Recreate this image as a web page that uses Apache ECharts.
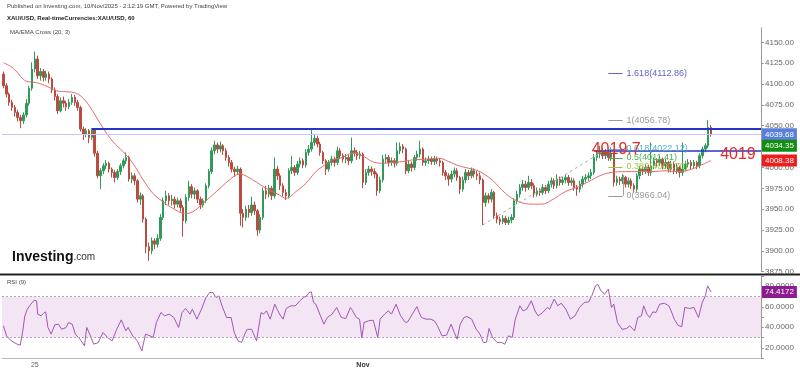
<!DOCTYPE html>
<html><head><meta charset="utf-8">
<script src="https://cdn.jsdelivr.net/npm/echarts@6/dist/echarts.min.js"></script>
<style>html,body{margin:0;padding:0;background:#fff}#c{width:800px;height:372px}</style>
</head><body><div id="c"></div>
<script>
// [open, close, low, high] per hourly bar (slot index = position)
const candles = [
[4112,4098,4095,4115],[4098,4088,4084,4101],[4088,4078,4074,4090],[4078,4072,4068,4081],[4072,4066,4061,4075],
[4066,4060,4055,4069],[4060,4056,4047,4063],[4056,4063,4052,4066],[4063,4077,4060,4082],[4077,4095,4074,4098],
[4095,4118,4092,4126],[4118,4130,4114,4139],[4130,4110,4106,4134],[4110,4115,4104,4119],[4115,4108,4103,4118],
[4108,4112,4104,4116],[4112,4106,4101,4115],[4106,4093,4089,4108],[4093,4085,4080,4096],[4085,4068,4064,4088],
[4068,4080,4066,4084],[4080,4077,4072,4085],[4077,4073,4068,4080],[4073,4078,4070,4082],[4078,4084,4075,4088],
[4084,4078,4074,4087],[4078,4072,4068,4081],[4072,4046,4043,4074],[4046,4040,4033,4049],[4040,4044,4036,4047],
[4044,4036,4029,4046],[4036,4045,4033,4047],[4045,4017,4013,4047],[4017,3990,3987,4020],[3990,3996,3974,3999],
[3996,4002,3992,4005],[4002,4005,3998,4009],[4005,3998,3994,4007],[3998,3994,3988,4000],[3994,3988,3982,3997],
[3988,3995,3985,3998],[3995,4002,3991,4005],[4002,4008,3999,4011],[4008,4012,4004,4018],[4012,3986,3983,4014],
[3986,3990,3981,3994],[3990,3984,3979,3993],[3984,3962,3958,3986],[3962,3966,3955,3970],[3966,3938,3934,3968],
[3938,3905,3897,3940],[3905,3900,3888,3910],[3900,3912,3896,3916],[3912,3908,3902,3915],[3908,3915,3904,3920],
[3915,3940,3912,3944],[3940,3960,3937,3964],[3960,3966,3955,3972],[3966,3960,3955,3969],[3960,3962,3954,3967],
[3962,3956,3951,3965],[3956,3960,3952,3964],[3960,3952,3947,3963],[3952,3936,3917,3955],[3936,3964,3933,3968],
[3964,3977,3960,3984],[3977,3968,3963,3980],[3968,3972,3962,3976],[3972,3962,3957,3974],[3962,3955,3950,3965],
[3955,3960,3952,3963],[3960,3978,3957,3981],[3978,3995,3975,3998],[3995,4020,3992,4024],[4020,4027,4016,4032],
[4027,4022,4017,4030],[4022,4026,4018,4031],[4026,4020,4015,4028],[4020,4012,4008,4023],[4012,4006,4001,4015],
[4006,3998,3994,4009],[3998,3995,3989,4001],[3995,3998,3991,4002],[3998,3945,3930,4000],[3945,3940,3928,3950],
[3940,3950,3936,3954],[3950,3946,3940,3955],[3946,3955,3942,3965],[3955,3948,3943,3959],[3948,3925,3918,3950],
[3925,3940,3921,3944],[3940,3972,3937,3976],[3972,3968,3962,3978],[3968,3975,3964,3979],[3975,3966,3961,3978],
[3966,3998,3963,4012],[3998,3990,3985,4002],[3990,3978,3973,3993],[3978,3970,3965,3981],[3970,3966,3961,3974],
[3966,3996,3963,3999],[3996,4000,3992,4014],[4000,3994,3990,4003],[3994,4004,3991,4008],[4004,4008,4000,4012],
[4008,4003,3999,4011],[4003,4018,4000,4022],[4018,4022,4014,4027],[4022,4030,4019,4045],[4030,4035,4026,4040],
[4035,4028,4024,4038],[4028,4018,4014,4031],[4018,4008,4004,4020],[4008,3998,3991,4010],[3998,4006,3995,4009],
[4006,4010,4002,4014],[4010,4006,4001,4013],[4006,4020,4003,4025],[4020,4014,4010,4023],[4014,4010,4006,4017],
[4010,4012,4005,4016],[4012,4008,4003,4015],[4008,4020,4005,4036],[4020,4018,4013,4024],[4018,4014,4009,4021],
[4014,4016,4010,4020],[4016,3982,3975,4018],[3982,3994,3979,3998],[3994,3998,3990,4002],[3998,3995,3990,4001],
[3995,3992,3987,3999],[3992,3972,3966,3994],[3972,3985,3969,3989],[3985,4010,3982,4015],[4010,4012,4005,4016],
[4012,4006,4001,4015],[4006,4008,4002,4012],[4008,4005,4000,4011],[4005,4020,4002,4030],[4020,4025,4016,4030],
[4025,4022,4017,4028],[4022,3996,3992,4024],[3996,4004,3993,4008],[4004,4000,3995,4007],[4000,4012,3997,4015],
[4012,4016,4008,4020],[4016,4022,4012,4032],[4022,4006,4002,4024],[4006,4008,4002,4012],[4008,4010,4004,4014],
[4010,4007,4003,4013],[4007,4010,4003,4014],[4010,4008,4004,4013],[4008,4006,4001,4011],[4006,3994,3990,4008],
[3994,3990,3985,3997],[3990,3986,3978,3993],[3986,3992,3982,3996],[3992,3996,3988,4000],[3996,3988,3984,3999],
[3988,3974,3968,3990],[3974,3985,3971,3989],[3985,3994,3981,3998],[3994,3990,3985,3997],[3990,3996,3987,4000],
[3996,3992,3988,3999],[3992,3990,3985,3996],[3990,3985,3980,3994],[3985,3958,3931,3987],[3958,3966,3953,3970],
[3966,3962,3957,3969],[3962,3970,3958,3974],[3970,3942,3938,3972],[3942,3938,3933,3946],[3938,3935,3931,3941],
[3935,3939,3932,3943],[3939,3934,3931,3942],[3934,3937,3931,3941],[3937,3940,3933,3944],[3940,3960,3937,3963],
[3960,3968,3956,3972],[3968,3976,3964,3980],[3976,3980,3972,3985],[3980,3976,3971,3984],[3976,3982,3973,3990],
[3982,3978,3974,3986],[3978,3968,3964,3981],[3968,3972,3965,3976],[3972,3970,3966,3975],[3970,3976,3967,3980],
[3976,3972,3968,3979],[3972,3980,3969,3984],[3980,3984,3976,3988],[3984,3978,3974,3987],[3978,3986,3975,3992],
[3986,3982,3978,3989],[3982,3985,3979,3989],[3985,3988,3981,3992],[3988,3982,3978,3991],[3982,3984,3978,3988],
[3984,3976,3972,3987],[3976,3974,3966,3979],[3974,3980,3970,3984],[3980,3986,3976,3990],[3986,3988,3982,3992],
[3988,3990,3984,3994],[3990,3994,3986,3998],[3994,4012,3991,4016],[4012,4016,4008,4020],[4016,4020,4011,4026],
[4020,4014,4010,4023],[4014,4018,4010,4022],[4018,4012,4008,4021],[4012,4016,4008,4024],[4016,3982,3977,4018],
[3982,3986,3978,3990],[3986,3984,3979,3989],[3984,3988,3980,3992],[3988,3980,3976,3990],[3980,3984,3976,3988],
[3984,3978,3974,3987],[3978,3974,3970,3981],[3974,3990,3971,3993],[3990,3998,3986,4002],[3998,3996,3991,4001],
[3996,4000,3992,4004],[4000,3994,3990,4003],[3994,4002,3990,4030],[4002,4008,3998,4012],[4008,4006,4001,4011],
[4006,4010,4002,4014],[4010,4002,3998,4012],[4002,4006,3998,4010],[4006,3998,3994,4008],[3998,4004,3994,4008],
[4004,3996,3992,4007],[3996,4000,3992,4004],[4000,3994,3988,4002],[3994,3998,3990,4030],[3998,4004,3995,4008],
[4004,4006,4000,4010],[4006,4002,3998,4009],[4002,4006,3999,4009],[4006,4002,3998,4008],[4002,4014,3999,4017],
[4014,4022,4011,4025],[4022,4026,4018,4029],[4026,4048,4023,4056.78],[4048,4039.68,4037,4051]
];
// MA(20) line vertices: [slot, price]
const maPoints = [[0,4125.6],[3.5,4118.8],[7,4105.6],[8.7,4102.8],[11.6,4101.6],[15,4097.6],[18.6,4092],[22,4090.8],[25.6,4088.8],[28.5,4080.9],[31.4,4066.9],[35,4046.9],[38.4,4030.9],[41.9,4018.9],[45.4,4004.9],[49,3985],[52.4,3968.9],[55.9,3958.9],[59.4,3950.9],[63.5,3944.9],[66.4,3946.9],[69.9,3956.9],[74.6,3970.9],[79.2,3985],[82.7,3992],[87.4,3985],[92,3975],[96.7,3967],[99,3963],[102.5,3971],[106,3981],[109.5,3995],[111.8,4001],[115.3,4009],[118.8,4012],[122.3,4017],[125.8,4014],[129.3,4007],[132.8,4005],[136.3,4006],[139.8,4007],[143.3,4009],[148,4010],[152.6,4011],[156.1,4007],[159.6,4002],[163.1,3999],[166.6,3995.5],[171.3,3985],[175.9,3969],[180.6,3959],[185.2,3956],[188.7,3956],[192.2,3961],[196.9,3971],[201.6,3977],[206.2,3985],[209.7,3991],[213.2,3994],[217.9,3995],[222.5,3995],[227.2,3995],[231.9,3996],[236.5,3995],[241.2,3998],[244.7,4003],[248,4008.38]];
// RSI(9) vertices: [slot, value]
const rsiPoints = [[0,41.4],[1.1,31.6],[2.7,26.8],[4.8,23.5],[5.9,22.5],[6.7,34.9],[7.5,51],[8.4,57.6],[9.6,62.5],[10.8,66.4],[11.6,65.8],[12,52.8],[13.2,51.2],[14,53.5],[14.8,55],[15.6,39.8],[16.7,33.3],[18,42.4],[19.3,43],[20.4,38],[22,39.8],[22.8,44.6],[24.1,43],[25.2,33.3],[26.8,28.4],[28.4,21.9],[29.2,39.8],[30.5,31.6],[31.6,23.5],[33.2,25],[34.9,34.9],[36.5,30],[38.1,26.8],[39.7,38],[41.3,47.2],[42.9,36.5],[43.7,39.8],[45.3,31.6],[46.9,26.8],[48.5,17],[49.8,33.3],[51.4,31.6],[52.5,30],[53.6,44.6],[55.2,54.4],[56.5,51.1],[58.1,52.8],[59.7,49.5],[61.4,39.8],[62.6,54.4],[63.8,58.3],[65.4,52.8],[66.2,57.6],[67.8,47.9],[69.4,57.6],[71,69],[72.3,73.9],[73.4,73.9],[74.5,69],[75.5,70.6],[76.6,60.9],[78.2,49.5],[79.8,49.5],[80.9,34.9],[82.2,26.8],[83.5,25.2],[84.6,33.3],[85.4,38],[87,38],[88.7,26.8],[90.3,54.4],[91.1,52.8],[92.2,56],[93.5,47.9],[95.1,62.5],[95.9,57.6],[97,51.8],[98,47.9],[99.1,58.3],[100.7,60.9],[102.3,60.9],[103.9,65.8],[105.2,69],[106.3,70.6],[107.1,73.9],[107.9,74.5],[108.7,64.1],[109.5,62.5],[111.1,51.1],[112.3,43],[113.5,49.5],[115.2,52.8],[116.8,59.3],[118.4,49.5],[120,48.5],[121.6,59.3],[122.4,56],[123.7,49.5],[124.8,47.9],[125.6,30],[126.4,44.6],[128,46.3],[129.6,46.9],[131.2,30],[132,47.9],[133.6,52.8],[134.9,56],[136,52.8],[137.6,62.5],[139.2,51.1],[140.9,44.6],[141.7,45.3],[143.3,52.8],[144.9,60.2],[145.7,54.4],[146.5,49.5],[148.1,47.9],[149.7,47.9],[151,46.3],[152.1,41.4],[153.7,31.6],[155.3,32.3],[156.9,43],[158,34.9],[159,28.4],[160.1,43],[161.4,49.5],[162.5,50.5],[164.1,47.9],[165.7,38],[167,33.3],[168.2,25.2],[169.3,25.2],[170.2,38.8],[171.4,30],[173,25.2],[174.6,25.2],[175.7,23.5],[177,31.6],[178.3,30],[179.4,47.9],[181,60.9],[182.1,56],[183.4,57.6],[185,65.8],[186.3,56],[187.4,51.1],[189,54.4],[190.6,59.3],[191.4,57.6],[193,67.4],[194.3,60.9],[195.5,63.5],[197.1,57.6],[198.7,47.9],[200.3,51.1],[201.9,59.3],[203.5,64.1],[205.1,64.8],[206.2,70.6],[207.5,80.4],[208.3,82],[209.4,75.5],[210.7,72.3],[212,77.2],[213.1,59.3],[213.9,62.5],[215.2,44.6],[216.8,38],[218.4,38.8],[219.5,41.4],[221.2,36.5],[222.3,49.5],[223.6,51.1],[224.4,60.9],[225.5,52.8],[226.5,49.5],[227.6,55],[228.7,54.4],[230,62.5],[231.6,63.5],[233.2,60.9],[234,56],[235.1,47.9],[236.4,42],[237.7,40.4],[238.8,59.3],[240.4,58.3],[242,59.3],[243.6,49.5],[244.9,64.1],[246,70.6],[246.8,80.4],[248,74.4172]];

const slotCount = 266;
const priceTickStep = 25;           // price labels 3875.00 ... 4150.00
const priceLabelMax = 4150;
const rsiLabels = [20,40,60,80];
const xTickSlots = [11,34,57,80,103,126,149,172,195,218,241,264];
const xTickLabels = {11:'25',126:'Nov'};
const lastPrice = 4039.68, emaLast = 4034.35, maLast = 4008.38, rsiLast = 74.4172;
const resistance = 4046.9, support = 4019.7;
const fibLevels = [
  {name:'1.618(4112.86)', value:4112.86, color:'#6464c8'},
  {name:'1(4056.78)', value:4056.78, color:'#9a9a9a'},
  {name:'0.618(4022.12)', value:4022.12, color:'#4fb3c4'},
  {name:'0.5(4011.41)', value:4011.41, color:'#4caf50'},
  {name:'0.382(4000.70)', value:4000.70, color:'#a9c23f'},
  {name:'0(3966.04)', value:3966.04, color:'#9a9a9a'}
];
const fibFrom = 212, fibTo = 217;
const trendFrom = [168, 3931], trendTo = [211, 4021];
const redTexts = [{text:'4019.7', at:[206, 4022]}, {text:'4019', at:[251, 4015]}];

const categories = [];
for (let i = 0; i < slotCount; i++) categories.push(String(i));

const UP = '#2f9a5a', DOWN = '#bd4a40';
const FONT = '"Liberation Sans", Arial, sans-serif';

function tag(bg, text, offY) {
  return {show:true, position:'end', distance:1, formatter:text, backgroundColor:bg, color:'#fff',
    fontSize:8, fontFamily:FONT, padding:[2,3,1,3], lineHeight:9, offset:[0, offY || 0]};
}
const hidden = {color:'rgba(0,0,0,0)', width:0};

const markLines = [
  {yAxis:lastPrice, lineStyle:{color:'#c6c6ee', width:1, type:'solid'}, label:tag('#5a7fda','4039.68')},
  {yAxis:maLast, lineStyle:hidden, label:tag('#f01c1c','4008.38')},
  {yAxis:emaLast, lineStyle:hidden, label:tag('#128c12','4034.35', 7)},
  [{coord:[31, resistance], lineStyle:{color:'#2634c6', width:2, type:'solid'}, label:{show:false}}, {coord:[265.5, resistance]}],
  [{coord:[207, support], lineStyle:{color:'#2634c6', width:1.6, type:'solid'}, label:{show:false}}, {coord:[265.5, support]}],
  [{coord:trendFrom, lineStyle:{color:'#aaaaaa', width:1, type:[3,3]}, label:{show:false}}, {coord:trendTo}],
  [{coord:[217.2, 3966.04], lineStyle:{color:'#a0a0a0', width:1, type:'solid'}, label:{show:false}}, {coord:[217.2, 3991]}]
];
fibLevels.forEach(f => {
  const lab = {show:true, position:'end', distance:4, formatter:f.name, color:f.color, fontSize:9, fontFamily:FONT};
  markLines.push([{coord:[fibFrom, f.value], lineStyle:{color:f.color, width:1, type:'solid'}, label:lab},
                  {coord:[fibTo, f.value], lineStyle:{color:f.color, width:1, type:'solid'}, label:lab}]);
});

const chart = echarts.init(document.getElementById('c'), null, {renderer:'canvas'});
chart.setOption({
  animation:false,
  backgroundColor:'#fff',
  textStyle:{fontFamily:FONT},
  grid:[
    {left:2, top:28, width:759, height:243.7, outerBoundsMode:'none', containLabel:false},
    {left:2, top:276, width:759, height:82, outerBoundsMode:'none', containLabel:false}
  ],
  xAxis:[
    {type:'category', gridIndex:0, data:categories, boundaryGap:true, show:false},
    {type:'value', gridIndex:0, min:-0.5, max:slotCount-0.5, show:false, axisLine:{onZero:false}},
    {type:'category', gridIndex:1, data:categories, boundaryGap:true,
      axisLine:{onZero:false, lineStyle:{color:'#b8b8b8'}},
      axisTick:{alignWithLabel:true, length:3, interval:(i)=>xTickSlots.includes(i), lineStyle:{color:'#999'}},
      axisLabel:{interval:(i)=>xTickSlots.includes(i), margin:4, fontSize:7, color:'#666',
        formatter:(v,i)=> i===126 ? '{b|Nov}' : (xTickLabels[i]||''),
        rich:{b:{fontSize:7, color:'#333', fontWeight:'bold'}}},
      splitLine:{show:false}},
    {type:'value', gridIndex:1, min:-0.5, max:slotCount-0.5, show:false, axisLine:{onZero:false}}
  ],
  yAxis:[
    {type:'value', gridIndex:0, position:'right', min:3875, max:4167.2, interval:priceTickStep,
      axisLine:{show:true, onZero:false, lineStyle:{color:'#9a9a9a'}},
      axisTick:{show:true, length:3, lineStyle:{color:'#9a9a9a'}},
      axisLabel:{showMaxLabel:false, formatter:(v)=> (v % priceTickStep === 0 && v <= priceLabelMax) ? v.toFixed(2) : '',
        fontSize:8, color:'#666', margin:4},
      splitLine:{show:false}},
    {type:'value', gridIndex:1, position:'right', min:10, max:90, interval:10,
      axisLine:{show:true, onZero:false, lineStyle:{color:'#9a9a9a'}},
      axisTick:{show:true, length:3, lineStyle:{color:'#9a9a9a'}},
      axisLabel:{formatter:(v)=> rsiLabels.includes(v) ? v.toFixed(4) : '', fontSize:8, color:'#666', margin:4},
      splitLine:{show:false}}
  ],
  series:[
    {type:'candlestick', xAxisIndex:0, yAxisIndex:0, data:candles, barWidth:2,
      itemStyle:{color:UP, color0:DOWN, borderColor:UP, borderColor0:DOWN, borderWidth:1}, z:2},
    {type:'line', xAxisIndex:1, yAxisIndex:0, data:maPoints, smooth:0.4, showSymbol:false,
      lineStyle:{color:'#e46a6a', width:1}, z:3, silent:true,
      markLine:{silent:true, symbol:['none','none'], animation:false, data:markLines},
      markPoint:{silent:true, symbol:'circle', symbolSize:1, itemStyle:{color:'rgba(0,0,0,0)'},
        label:{show:true, position:'right', distance:0, fontSize:16, color:'#e42a2a', fontFamily:FONT, formatter:(p)=>p.name},
        data:redTexts.map(t=>({name:t.text, coord:t.at}))}
    },
    {type:'line', xAxisIndex:3, yAxisIndex:1, data:rsiPoints, showSymbol:false,
      lineStyle:{color:'#a256b6', width:1}, silent:true, z:3,
      markArea:{silent:true, itemStyle:{color:'#f3e5f4'}, data:[[{yAxis:30},{yAxis:70}]]},
      markLine:{silent:true, symbol:['none','none'], animation:false, data:[
        {yAxis:70, lineStyle:{color:'#b0a8b2', width:1, type:[2,2]}, label:{show:false}},
        {yAxis:30, lineStyle:{color:'#b0a8b2', width:1, type:[2,2]}, label:{show:false}},
        {yAxis:rsiLast, lineStyle:hidden, label:tag('#8c1c90','74.4172')}
      ]}
    }
  ],
  graphic:[
    {type:'text', left:7, top:3, style:{text:'Published on Investing.com, 10/Nov/2025 - 2:12:19 GMT, Powered by TradingView', fontSize:6, fill:'#444', fontFamily:FONT}},
    {type:'text', left:7, top:15, style:{text:'XAU/USD, Real-timeCurrencies:XAU/USD, 60', fontSize:6, fontWeight:'bold', fill:'#222', fontFamily:FONT}},
    {type:'text', left:10, top:29, style:{text:'MA/EMA Cross (20, 3)', fontSize:6, fill:'#444', fontFamily:FONT}},
    {type:'text', left:7, top:279, style:{text:'RSI (9)', fontSize:6, fill:'#444', fontFamily:FONT}},
    {type:'text', left:12, top:250, style:{text:'{a|Investing}{b|.com}', fontFamily:FONT,
      rich:{a:{fontSize:14, fontWeight:'bold', fill:'#111', fontFamily:FONT}, b:{fontSize:10, fill:'#333', fontFamily:FONT}}}},
    {type:'line', shape:{x1:0, y1:274.5, x2:800, y2:274.5}, style:{stroke:'#222', lineWidth:2}}
  ]
});
</script>
</body></html>
